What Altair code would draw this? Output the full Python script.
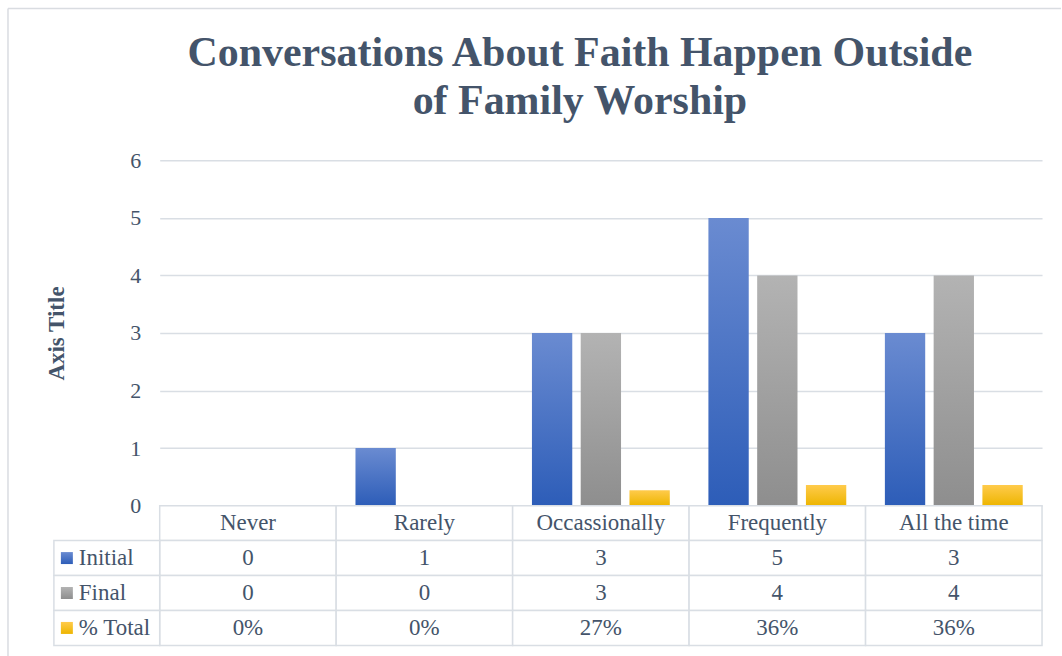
import altair as alt
import pandas as pd

# ---- data ----
categories = ["Never", "Rarely", "Occassionally", "Frequently", "All the time"]
initial = [0, 1, 3, 5, 3]
final = [0, 0, 3, 4, 4]
pct_total = [0.0, 0.0, 0.27, 0.36, 0.36]
series = ["Initial", "Final", "% Total"]
y_ticks = [0, 1, 2, 3, 4, 5, 6]
title_lines = ["Conversations About Faith Happen Outside", "of Family Worship"]
y_title = "Axis Title"

TEXT = "#44546A"
GRID = "#D9DEE4"
BORDER = "#D9DCE1"
FONT = "Liberation Serif"

grad_colors = {
    "Initial": ("#6A8BD1", "#2D5DB8"),
    "Final": ("#B3B3B3", "#8E8E8E"),
    "% Total": ("#FFCB4C", "#EDB500"),
}


def grad(top, bottom):
    return alt.LinearGradient(
        gradient="linear",
        stops=[alt.GradientStop(color=top, offset=0), alt.GradientStop(color=bottom, offset=1)],
        x1=0, x2=0, y1=0, y2=1,
    )


values = {"Initial": initial, "Final": final, "% Total": pct_total}
rows = []
for s in series:
    for c, v in zip(categories, values[s]):
        lab = f"{round(v * 100)}%" if s == "% Total" else str(v)
        rows.append({"category": c, "series": s, "row": s, "value": v, "text": lab})
df = pd.DataFrame(rows)

hdr = pd.DataFrame({"category": categories, "row": ["hdr"] * len(categories), "text": categories})
tdf = pd.concat([hdr, df[["category", "row", "text"]]], ignore_index=True)
ldf = pd.DataFrame({"row": series})
one = pd.DataFrame({"a": [0]})

W, H = 884, 346
TH = 140

xscale = alt.Scale(domain=categories, paddingInner=0, paddingOuter=0)
xenc = alt.X("category:N", scale=xscale, axis=None, sort=categories)

# ---- top: bars ----
base = alt.Chart(df).encode(
    x=xenc,
    xOffset=alt.XOffset("series:N", scale=alt.Scale(domain=series, paddingInner=0.173, paddingOuter=0.396)),
    y=alt.Y(
        "value:Q",
        scale=alt.Scale(domain=[0, 6], nice=False),
        axis=alt.Axis(
            values=y_ticks, title=y_title, grid=True, gridColor=GRID, gridWidth=1.5,
            domain=False, ticks=False, labelPadding=19, labelFont=FONT, labelFontSize=22,
            labelColor=TEXT, titleFont=FONT, titleFontSize=23, titleFontWeight="bold",
            titleColor=TEXT, titleAngle=-90, titleX=-103, titleY=173,
            titleAlign="center", titleBaseline="middle",
        ),
    ),
)
bars = [
    base.transform_filter(alt.datum.series == s).mark_bar(color=grad(*grad_colors[s]))
    for s in series
]
top = alt.layer(*bars).properties(
    width=W, height=H,
    title=alt.TitleParams(
        text=title_lines, font=FONT, fontSize=42, fontWeight="bold", color=TEXT,
        anchor="middle", dx=-21, offset=26, lineHeight=48,
    ),
)

# ---- bottom: data table ----
yrow = alt.Y("row:N", scale=alt.Scale(domain=["hdr"] + series, paddingInner=0, paddingOuter=0), axis=None)
cells = alt.Chart(tdf).mark_rect(fill="white", stroke=GRID, strokeWidth=1.5).encode(x=xenc, y=yrow)
cell_text = alt.Chart(tdf).mark_text(font=FONT, fontSize=23, color=TEXT).encode(x=xenc, y=yrow, text="text:N")
left_cells = alt.Chart(ldf).mark_rect(fill="white", stroke=GRID, strokeWidth=1.5).encode(
    x=alt.value(-106), x2=alt.value(0), y=yrow
)
left_text = alt.Chart(ldf).mark_text(align="left", font=FONT, fontSize=23, color=TEXT).encode(
    x=alt.value(-81), y=yrow, text="row:N"
)
squares = [
    alt.Chart(ldf).transform_filter(alt.datum.row == s)
    .mark_square(size=144, filled=True, opacity=1, color=grad(*grad_colors[s]))
    .encode(x=alt.value(-93), y=yrow)
    for s in series
]
border_left = alt.Chart(one).mark_rule(color=BORDER, strokeWidth=1.5).encode(
    x=alt.value(-152), y=alt.value(-498), y2=alt.value(151)
)
border_top = alt.Chart(one).mark_rule(color=BORDER, strokeWidth=1.5).encode(
    x=alt.value(-152), x2=alt.value(903), y=alt.value(-498)
)
bottom = alt.layer(cells, cell_text, left_cells, left_text, *squares, border_left, border_top).properties(
    width=W, height=TH
)

chart = (
    alt.vconcat(top, bottom, spacing=0, bounds="flush")
    .properties(padding={"left": 7, "top": 7, "right": 0, "bottom": 0}, background="white")
    .configure_view(stroke=None)
)
chart.save("out.html", embed_options={"renderer": "svg", "actions": False})
